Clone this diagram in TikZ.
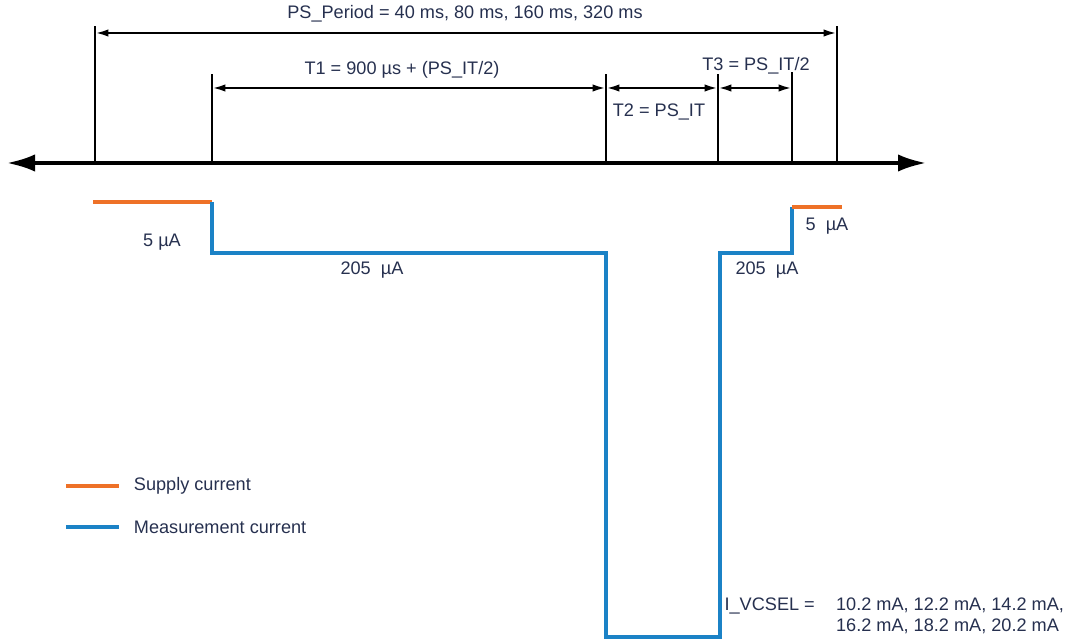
\documentclass[tikz,border=0pt]{standalone}
\usepackage{fontspec}
\setmainfont{Liberation Sans}
\usetikzlibrary{arrows.meta,positioning}
\definecolor{supply}{HTML}{EE7127}
\definecolor{meas}{HTML}{1B82C6}
\definecolor{txt}{HTML}{26304F}

\begin{document}
\begin{tikzpicture}[
    x=0.75pt, y=-0.75pt,
    font=\fontsize{13.6}{15.8}\selectfont, text=txt,
    tick/.style={line width=1.8pt},
    dim/.style={{Latex[length=10pt,width=5.5pt]}-{Latex[length=10pt,width=5.5pt]}, line width=1.8pt},
    axis/.style={{Latex[length=21pt,width=13pt]}-{Latex[length=21pt,width=13pt]}, line width=2.6pt},
    supplyline/.style={supply, line width=3pt},
    measline/.style={meas, line width=3pt, line join=miter},
    lbl/.style={inner sep=1pt}
]
    \useasboundingbox (0,0) rectangle (1076,641);

    % time axis and markers
    \coordinate (axl) at (7,163);
    \coordinate (axr) at (926,163);
    \draw[axis] (axl) -- (axr);
    \foreach \n/\x/\top in {a/95/26, b/212/74, c/606/74, d/718/74, e/792/72, f/837/26} {
        \coordinate (\n0) at (\x,163);
        \coordinate (\n1) at (\x,\top);
        \draw[tick] (\n0) -- (\n1);
    }

    % intervals
    \draw[dim] (a1 |- 0,33) -- (f1 |- 0,33);
    \draw[dim] (b1 |- 0,88) -- (c1 |- 0,88);
    \draw[dim] (c1 |- 0,88) -- (d1 |- 0,88);
    \draw[dim] (d1 |- 0,88) -- (e1 |- 0,88);

    \node[lbl] (period) at (465,14) {PS\_Period = 40 ms, 80 ms, 160 ms, 320 ms};
    \node[lbl] (tone) at (402,70) {T1 = 900 µs + (PS\_IT/2)};
    \node[lbl] (ttwo) at (659,112) {T2 = PS\_IT};
    \node[lbl] (tthree) at (756,66) {T3 = PS\_IT/2};

    % current profile
    \coordinate (w0) at (93,202);
    \coordinate (w1) at (212,202);
    \coordinate (w2) at (212,253);
    \coordinate (w3) at (606,253);
    \coordinate (w4) at (606,637);
    \coordinate (w5) at (720,637);
    \coordinate (w6) at (720,253);
    \coordinate (w7) at (792,253);
    \coordinate (w8) at (792,207);
    \coordinate (w9) at (842,207);
    \draw[supplyline] (w0) -- (w1);
    \draw[measline] (w1) -- (w2) -- (w3) -- (w4) -- (w5) -- (w6) -- (w7) -- (w8);
    \draw[supplyline] (w8) -- (w9);

    \node[lbl] (ione) at (162,242) {5 µA};
    \node[lbl] (itwo) at (372,270) {205~ µA};
    \node[lbl] (ithree) at (767,270) {205~ µA};
    \node[lbl] (ifour) at (827,226) {5~ µA};

    \node[lbl, anchor=west] (ivcsel) at (723,617) {%
        \begin{tabular}{@{}l@{\hspace{16pt}}l@{}}
        I\_VCSEL = & 10.2 mA, 12.2 mA, 14.2 mA,\\
                   & 16.2 mA, 18.2 mA, 20.2 mA
        \end{tabular}};

    % legend
    \coordinate (ls0) at (66,486);
    \coordinate (ls1) at (119,486);
    \coordinate (lm0) at (66,527);
    \coordinate (lm1) at (119,527);
    \draw[supplyline] (ls0) -- (ls1);
    \draw[measline] (lm0) -- (lm1);
    \node[lbl, right=10pt of ls1] (legsup) {Supply current};
    \node[lbl, right=10pt of lm1] (legmeas) {Measurement current};
\end{tikzpicture}
\end{document}
